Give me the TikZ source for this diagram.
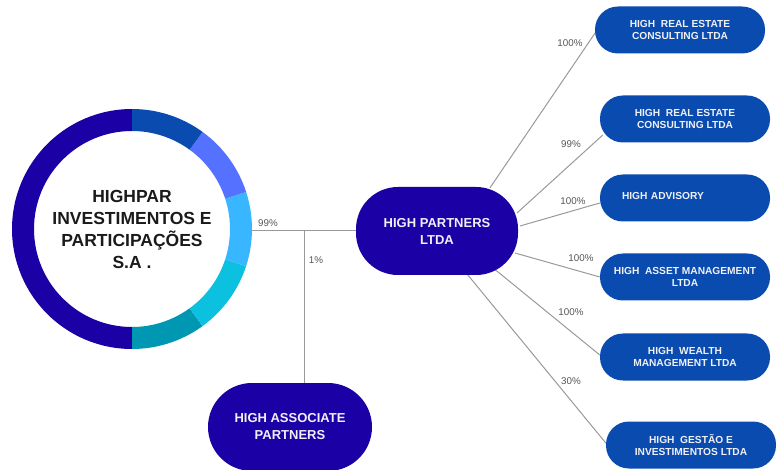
\documentclass[tikz,border=0pt]{standalone}
\usepackage{fontspec}
\setmainfont{Liberation Sans}
\usetikzlibrary{backgrounds}
\definecolor{hpindigo}{HTML}{1B00A5}
\definecolor{hpblue}{HTML}{0A4BAF}
\definecolor{hpmid}{HTML}{5472FF}
\definecolor{hplight}{HTML}{38B6FF}
\definecolor{hpcyan}{HTML}{0CC0DF}
\definecolor{hpteal}{HTML}{0097B2}
\definecolor{hptext}{HTML}{1A1A1A}
\definecolor{hpwhite}{HTML}{F0F0F4}
\definecolor{hpgray}{HTML}{555555}
\definecolor{hpline}{HTML}{999999}
\tikzset{holding/.style={
        circle,
        minimum size=240pt,
        inner sep=0pt,
        align=center,
        text=hptext,
        font=\bfseries\fontsize{17.5}{22}\selectfont } }
\tikzset{parent/.style={
        fill=hpindigo,
        rounded corners=42pt,
        minimum width=162pt,
        minimum height=88pt,
        inner sep=0pt,
        align=center,
        text=hpwhite,
        font=\bfseries\fontsize{13}{17}\selectfont } }
\tikzset{sub/.style={
        fill=hpblue,
        rounded corners=23pt,
        minimum width=170pt,
        minimum height=47pt,
        inner sep=0pt,
        align=center,
        text=hpwhite,
        font=\bfseries\fontsize{10.2}{12}\selectfont } }
\tikzset{pct/.style={
        inner sep=0pt,
        text=hpgray,
        font=\fontsize{9.8}{11}\selectfont } }
\tikzset{link/.style={draw=hpline, line width=1pt}}

\begin{document}
\begin{tikzpicture}[x=1pt,y=-1pt]
\useasboundingbox (0,0) rectangle (782,470);

\node[holding] (hold) at (132,229) {HIGHPAR\\INVESTIMENTOS E\\PARTICIPAÇÕES\\S.A .};
% ring round the holding
\begin{scope}[shift={(132,229)}, y=1pt]
\foreach \a/\b/\c in {90/270/hpindigo, 270/306/hpteal, 306/342/hpcyan,
                      342/378/hplight, 378/414/hpmid, 414/450/hpblue}
  \fill[\c] (\a:120) arc[start angle=\a, end angle=\b, radius=120]
        -- (\b:98) arc[start angle=\b, end angle=\a, radius=98] -- cycle;
\end{scope}

\node[parent] (hp) at (437,231) {HIGH PARTNERS\\LTDA};
\node[parent, minimum width=164pt, rounded corners=44pt] (assoc) at (290,427) {HIGH ASSOCIATE\\PARTNERS};

\node[sub] (r1) at (680,30) {HIGH\ \ REAL ESTATE\\CONSULTING LTDA};
\node[sub] (r2) at (685,119) {HIGH\ \ REAL ESTATE\\CONSULTING LTDA};
\node[sub, text width=126pt, align=left] (r3) at (685,198) {\raisebox{4pt}{HIGH ADVISORY}};
\node[sub] (r4) at (685,277) {HIGH\ \ ASSET MANAGEMENT\\LTDA};
\node[sub] (r5) at (685,357) {HIGH\ \ WEALTH\\MANAGEMENT LTDA};
\node[sub] (r6) at (691,445) {HIGH\ \ GESTÃO E\\INVESTIMENTOS LTDA};

\coordinate (split) at (304,231);

\begin{scope}[on background layer]
\draw[link] (hold.east |- hp.west) -- (hp.west);
\draw[link] (split) -- (split |- assoc.north);
\draw[link] ([shift={(53,1)}]hp.north) -- ([shift={(1,2)}]r1.west);
\draw[link] ([shift={(80,-18)}]hp.center) -- ([shift={(3,16)}]r2.west);
\draw[link] ([shift={(83,-5)}]hp.center) -- ([shift={(0,5)}]r3.west);
\draw[link] ([shift={(78,22)}]hp.center) -- (r4.west);
\draw[link] ([shift={(50,32)}]hp.center) -- ([shift={(0,-2)}]r5.west);
\draw[link] ([shift={(21,32)}]hp.center) -- ([shift={(0,-2)}]r6.west);
\end{scope}

\node[pct] (p99) at (268,223) {99\%};
\node[pct] (p1) at (316,260) {1\%};
\node[pct] (pr1) at (570,43) {100\%};
\node[pct] (pr2) at (571,144) {99\%};
\node[pct] (pr3) at (573,201) {100\%};
\node[pct] (pr4) at (581,258) {100\%};
\node[pct] (pr5) at (571,312) {100\%};
\node[pct] (pr6) at (571,381) {30\%};

\end{tikzpicture}
\end{document}
